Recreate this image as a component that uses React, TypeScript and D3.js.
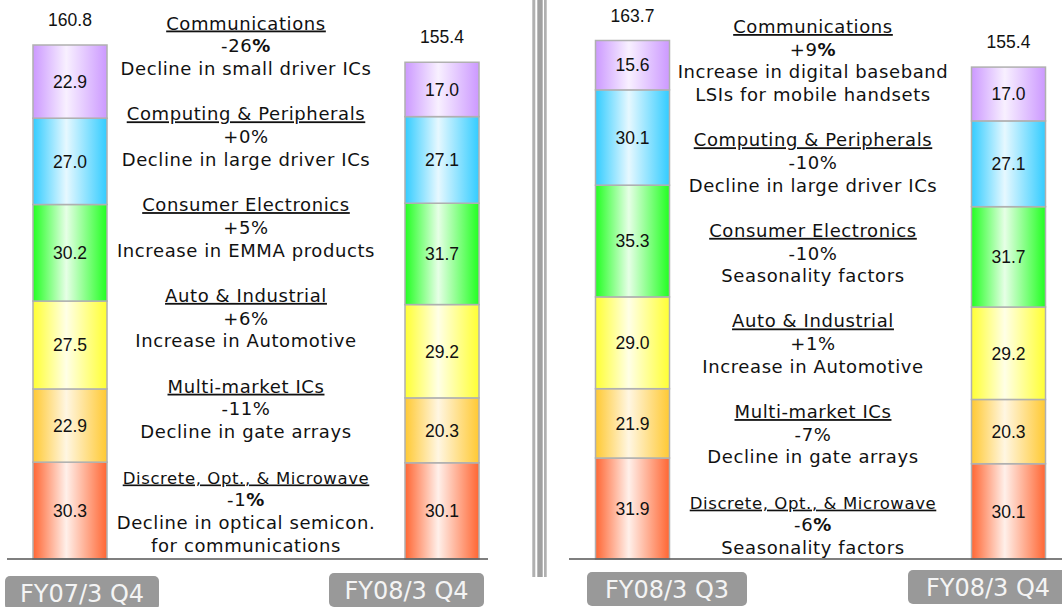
import React, { useRef, useEffect } from "react";
import * as d3 from "d3";

// segments, bottom to top
const segments = [
  "Discrete, Opt., & Microwave",
  "Multi-market ICs",
  "Auto & Industrial",
  "Consumer Electronics",
  "Computing & Peripherals",
  "Communications",
];
const fy07q4 = [30.3, 22.9, 27.5, 30.2, 27.0, 22.9];
const fy08q3 = [31.9, 21.9, 29.0, 35.3, 30.1, 15.6];
const fy08q4 = [30.1, 20.3, 29.2, 31.7, 27.1, 17.0];
const totals = { "FY07/3 Q4": "160.8", "FY08/3 Q3": "163.7", "FY08/3 Q4": "155.4" };

// annotations, top to bottom (Communications first)
const leftChanges = ["-26%", "+0%", "+5%", "+6%", "-11%", "-1%"];
const leftNotes = [
  ["Decline in small driver ICs"],
  ["Decline in large driver ICs"],
  ["Increase in EMMA products"],
  ["Increase in Automotive"],
  ["Decline in gate arrays"],
  ["Decline in optical semicon.", "for communications"],
];
const rightChanges = ["+9%", "-10%", "-10%", "+1%", "-7%", "-6%"];
const rightNotes = [
  ["Increase in digital baseband", "LSIs for mobile handsets"],
  ["Decline in large driver ICs"],
  ["Seasonality factors"],
  ["Increase in Automotive"],
  ["Decline in gate arrays"],
  ["Seasonality factors"],
];
const boldPct = [true, false, false, false, false, true];

const edgeColors = ["#ff6633", "#ffc933", "#ffff33", "#22ff22", "#33ccff", "#cc99ff"];
const midColors = ["#fff0ea", "#fff6e2", "#ffffe6", "#e6ffe6", "#e6f8ff", "#f8f0ff"];

const baseY = 559;
const barW = 74;
const noteFont = "DejaVu Sans, Verdana, sans-serif";

const panels = [
  {
    periods: ["FY07/3 Q4", "FY08/3 Q4"],
    values: [fy07q4, fy08q4],
    xRange: [70, 442],
    yMax: 160.8,
    yTop: 45,
    axis: [7, 488],
    noteX: 246,
    line0: 29.5,
    lh: 22.7,
    changes: leftChanges,
    notes: leftNotes,
    tags: [
      { x: 5, y: 576, w: 154 },
      { x: 329, y: 573, w: 155 },
    ],
  },
  {
    periods: ["FY08/3 Q3", "FY08/3 Q4"],
    values: [fy08q3, fy08q4],
    xRange: [632.5, 1008.5],
    yMax: 163.8,
    yTop: 40.5,
    axis: [569, 1062],
    noteX: 813,
    line0: 33,
    lh: 22.65,
    changes: rightChanges,
    notes: rightNotes,
    tags: [
      { x: 587, y: 572, w: 160 },
      { x: 908, y: 570, w: 160 },
    ],
  },
];

const App = () => {
  const ref = useRef<SVGSVGElement>(null);

  useEffect(() => {
    const svg = d3.select(ref.current);
    svg.selectAll("*").remove();

    const defs = svg.append("defs");
    edgeColors.forEach((c, i) => {
      const g = defs
        .append("linearGradient")
        .attr("id", `grad${i}`)
        .attr("x1", 0)
        .attr("x2", 1)
        .attr("y1", 0)
        .attr("y2", 0);
      g.append("stop").attr("offset", 0).attr("stop-color", c);
      g.append("stop").attr("offset", 0.45).attr("stop-color", midColors[i]);
      g.append("stop").attr("offset", 1).attr("stop-color", c);
    });

    // divider
    const div = svg.append("g");
    [
      [532.3, 3, "#b0b0b0"],
      [537.3, 5.4, "#a0a0a0"],
      [544, 2.7, "#b0b0b0"],
    ].forEach(([x, w, c]) => {
      div.append("rect").attr("x", x).attr("y", 0).attr("width", w).attr("height", 577).attr("fill", c as string);
    });

    panels.forEach((p) => {
      const g = svg.append("g");
      const x = d3.scalePoint<string>().domain(p.periods).range(p.xRange as [number, number]);
      const y = d3.scaleLinear().domain([0, p.yMax]).range([baseY, p.yTop]);

      p.periods.forEach((period, bi) => {
        const vals = p.values[bi];
        const stack = d3.cumsum(vals);
        const cx = x(period)!;
        vals.forEach((v, si) => {
          const y0 = y(stack[si] - v);
          const y1 = y(stack[si]);
          g.append("rect")
            .attr("x", cx - barW / 2)
            .attr("y", y1)
            .attr("width", barW)
            .attr("height", y0 - y1)
            .attr("fill", `url(#grad${si})`)
            .attr("stroke", "#b0b0b0")
            .attr("stroke-width", 1.5);
          g.append("text")
            .attr("x", cx)
            .attr("y", (y0 + y1) / 2)
            .attr("dy", "0.36em")
            .attr("text-anchor", "middle")
            .attr("font-family", "Liberation Sans, Arial, sans-serif")
            .attr("font-size", 17.5)
            .attr("fill", "#111")
            .text(v.toFixed(1));
        });
        g.append("text")
          .attr("x", cx)
          .attr("y", y(stack[stack.length - 1]) - 19)
          .attr("text-anchor", "middle")
          .attr("font-family", "Liberation Sans, Arial, sans-serif")
          .attr("font-size", 17.5)
          .attr("fill", "#111")
          .text(totals[period as keyof typeof totals]);
      });

      g.append("line")
        .attr("x1", p.axis[0])
        .attr("x2", p.axis[1])
        .attr("y1", baseY)
        .attr("y2", baseY)
        .attr("stroke", "#555")
        .attr("stroke-width", 1.5);

      // annotations
      let line = 0;
      const titles = segments.slice().reverse();
      const yy = (n: number) => p.line0 + p.lh * n;
      const note = (txt: string | null, size = 18) =>
        g
          .append("text")
          .attr("x", p.noteX)
          .attr("y", yy(line))
          .attr("text-anchor", "middle")
          .attr("font-family", noteFont)
          .attr("font-size", size)
          .attr("letter-spacing", 0.6)
          .attr("fill", "#111")
          .text(txt ?? "");
      titles.forEach((t, k) => {
        note(t, k === 5 ? 16.5 : 18).style("text-decoration", "underline");
        line++;
        const ch = p.changes[k];
        if (boldPct[k]) {
          const pt = note(null);
          pt.append("tspan").text(ch.slice(0, -1));
          pt.append("tspan").attr("font-weight", "bold").text("%");
        } else {
          note(ch);
        }
        line++;
        p.notes[k].forEach((n) => {
          note(n);
          line++;
        });
        line++;
      });

      // period tags
      p.periods.forEach((period, bi) => {
        const t = p.tags[bi];
        g.append("rect")
          .attr("x", t.x)
          .attr("y", t.y)
          .attr("width", t.w)
          .attr("height", 34)
          .attr("rx", 5)
          .attr("fill", "#999");
        g.append("text")
          .attr("x", t.x + t.w / 2)
          .attr("y", t.y + 26)
          .attr("text-anchor", "middle")
          .attr("font-family", noteFont)
          .attr("font-size", 24)
          .attr("fill", "#f4f4f4")
          .text(period);
      });
    });
  }, []);

  return (
    <svg
      ref={ref}
      width={1062}
      height={607}
      style={{ position: "absolute", left: 0, top: 0, background: "#fff" }}
    ></svg>
  );
};

export default App;
